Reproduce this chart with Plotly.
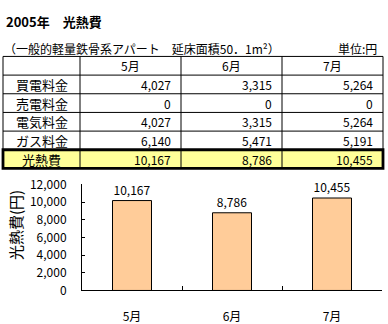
import plotly.graph_objects as go

# ---- data ----
months = ["5月", "6月", "7月"]
row_labels = ["買電料金", "売電料金", "電気料金", "ガス料金", "光熱費"]
buy_power = [4027, 3315, 5264]
sell_power = [0, 0, 0]
electricity = [4027, 3315, 5264]
gas = [6140, 5471, 5191]
total = [10167, 8786, 10455]
y_ticks = [0, 2000, 4000, 6000, 8000, 10000, 12000]

W, H = 388, 324
FONT = "Noto Sans CJK JP"


def px(x):
    return x / W


def py(y):
    return 1 - y / H


fig = go.Figure()
shapes = []
annotations = []


def text(s, x, y, anchor="center", size=12, angle=0):
    annotations.append(dict(text=s, x=px(x), y=py(y), xref="paper", yref="paper",
                            xanchor=anchor, yanchor="middle", showarrow=False,
                            textangle=angle, font=dict(family=FONT, size=size,
                                                       color="black")))


def line(x0, y0, x1, y1, width=1):
    shapes.append(dict(type="line", xref="paper", yref="paper",
                       x0=px(x0), y0=py(y0), x1=px(x1), y1=py(y1),
                       line=dict(color="black", width=width)))


# ---- table ----
rows = [buy_power, sell_power, electricity, gas, total]
col_edges = [3, 80, 181, 282, 383]
row_h = 19.7
t_top = 49
n_rows = len(rows) + 1
row_y = [t_top + i * row_h for i in range(n_rows + 1)]

# highlighted total row
shapes.append(dict(type="rect", xref="paper", yref="paper",
                   x0=px(col_edges[0]), x1=px(col_edges[-1]),
                   y0=py(row_y[-1]), y1=py(row_y[-2]),
                   fillcolor="#FFFF99", line=dict(width=0), layer="below"))

for y in row_y[:-2]:
    line(col_edges[0], y, col_edges[-1], y)
for x in col_edges:
    line(x, row_y[0], x, row_y[-1])

# thick frame around the total row
shapes.append(dict(type="rect", xref="paper", yref="paper",
                   x0=px(col_edges[0]), x1=px(col_edges[-1]),
                   y0=py(row_y[-1]), y1=py(row_y[-2]),
                   line=dict(color="black", width=2.8)))

for j, m in enumerate(months):
    text(m, (col_edges[j + 1] + col_edges[j + 2]) / 2, row_y[0] + row_h / 2)
for i, (label, vals) in enumerate(zip(row_labels, rows)):
    yc = row_y[i + 1] + row_h / 2
    text(label, (col_edges[0] + col_edges[1]) / 2, yc, size=13)
    for j, v in enumerate(vals):
        text(f"{v:,}", col_edges[j + 2] - 8, yc, anchor="right")

# ---- headings ----
text("<b>2005年　光熱費</b>", 4, 12, anchor="left", size=13)
text("（一般的軽量鉄骨系アパート　延床面積50．1m²）", 2, 41, anchor="left")
text("単位:円", 379, 41, anchor="right")
text("光熱費(円)", 15, 227, size=15, angle=-90)

# ---- bar chart ----
fig.add_trace(go.Bar(
    x=months, y=total, width=0.39,
    marker=dict(color="#FFCC99", line=dict(color="black", width=1)),
    text=[f"{v:,}" for v in total], textposition="outside",
    textfont=dict(family=FONT, size=12, color="black"),
    cliponaxis=False,
))

fig.update_layout(
    width=W, height=H, margin=dict(l=0, r=0, t=0, b=0),
    paper_bgcolor="white", plot_bgcolor="white", showlegend=False,
    font=dict(family=FONT, size=12, color="black"),
    xaxis=dict(domain=[px(82), px(382)], showline=True, linecolor="black",
               linewidth=1, ticks="inside", tickson="boundaries", ticklen=4,
               tickcolor="black", showgrid=False, ticklabelstandoff=15,
               tickfont=dict(family=FONT, size=12), fixedrange=True),
    yaxis=dict(domain=[py(296), py(184)], range=[0, 12000], showline=True,
               linecolor="black", linewidth=1, ticks="inside", ticklen=3,
               tickcolor="black", tickvals=y_ticks, tickformat=",",
               showgrid=False, zeroline=False, ticklabelstandoff=12,
               tickfont=dict(family=FONT, size=12), fixedrange=True),
    shapes=shapes,
    annotations=annotations,
)

fig.write_html("out.html")
